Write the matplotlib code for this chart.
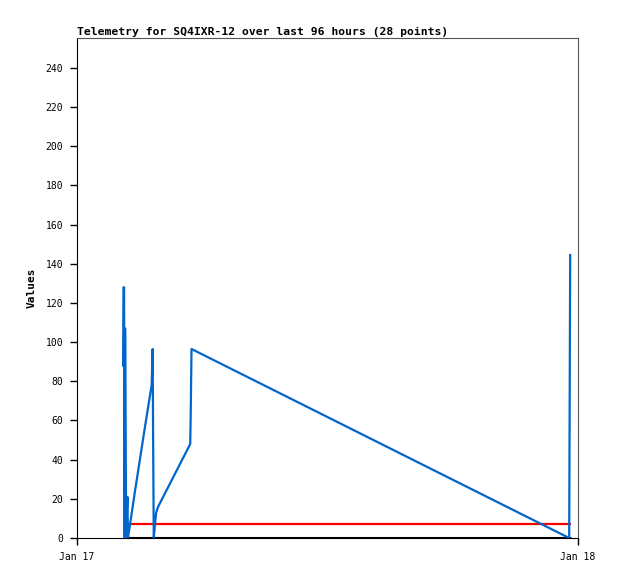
import matplotlib
matplotlib.use("Agg")
import matplotlib.pyplot as plt
import matplotlib.dates as mdates
import numpy as np
from datetime import datetime, timedelta

# Data (hours since Jan 17 00:00)
blue_hours = [2.208, 2.227, 2.256, 2.280, 2.304, 2.328, 2.352, 2.415, 2.443,
              2.765, 3.245, 3.576, 3.624, 3.648, 3.677, 3.744, 3.792, 3.888,
              4.704, 5.424, 5.448, 5.486, 23.578, 23.626]
blue_values = [88, 128, 128, 0, 107, 64, 0, 21, 0,
               23, 56, 78, 96.5, 48.5, 0, 8, 13, 16,
               33, 48, 64, 96.5, 0, 144.5]
flat_hours = [2.208, 23.664]
red_values = [7, 7]
black_values = [0, 0]

title = "Telemetry for SQ4IXR-12 over last 96 hours (28 points)"
ylabel = "Values"
yticks = list(range(0, 241, 20))

base = datetime(2024, 1, 17)
to_dt = lambda hs: [base + timedelta(hours=h) for h in hs]

font = "DejaVu Sans Mono"
fig = plt.figure(figsize=(6.18, 5.79), dpi=100)
ax = fig.add_axes([77/618, 41/579, 501/618, 500/579])

ax.plot(to_dt(flat_hours), black_values, color="black", lw=2.2, solid_capstyle="butt", zorder=2)
ax.plot(to_dt(flat_hours), red_values, color="#ff0000", lw=1.6, solid_capstyle="butt", zorder=3)
ax.plot(to_dt(blue_hours), blue_values, color="#0066cc", lw=1.6, zorder=4)

ax.set_xlim(base, base + timedelta(days=1))
ax.set_ylim(0, 255.3)
ax.set_yticks(yticks)
ax.set_xticks([base, base + timedelta(days=1)])
ax.xaxis.set_major_formatter(mdates.DateFormatter("%b %d"))

ax.tick_params(direction="out", length=5, width=1, labelsize=7, color="black", pad=5)
for lab in ax.get_xticklabels() + ax.get_yticklabels():
    lab.set_fontfamily(font)

for s in ["top", "right"]:
    ax.spines[s].set_color("#555555")
for s in ["left", "bottom"]:
    ax.spines[s].set_color("black")

ax.set_ylabel(ylabel, fontfamily=font, fontsize=8, fontweight="bold", labelpad=6)
ax.set_title(title, fontfamily=font, fontsize=8.2, fontweight="bold", loc="left", pad=2)

fig.savefig("out.png", dpi=100)
